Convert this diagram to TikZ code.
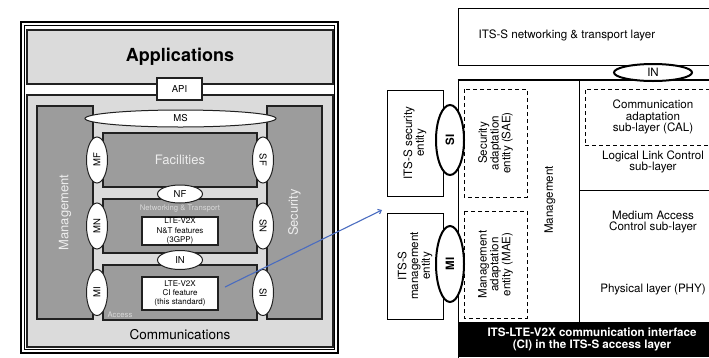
\documentclass[tikz,border=0pt]{standalone}
\usepackage{fontspec}
\setmainfont{TeX Gyre Heros}
\usepackage{tikz}
\usetikzlibrary{arrows.meta, positioning, shapes.geometric}
\definecolor{colorLight}{gray}{0.86}
\definecolor{colorMid}{gray}{0.61}
\definecolor{colorEdge}{gray}{0.13}
\definecolor{colorPale}{gray}{0.93}
\definecolor{colorFaint}{gray}{0.85}
\definecolor{colorZoom}{RGB}{74,108,192}
\tikzset{
  frame/.style={draw=black, line width=1.6pt, inner sep=0pt},
  panel/.style={draw=colorEdge, line width=1.1pt, fill=colorLight, inner sep=0pt},
  block/.style={draw=colorEdge, line width=1.1pt, fill=colorMid, inner sep=0pt, text=colorPale, font=\fontsize{13}{13}\selectfont},
  feat/.style={draw=colorEdge, line width=1.1pt, fill=white, inner sep=0pt, align=center, font=\fontsize{8}{9.3}\selectfont},
  sap/.style={ellipse, draw=colorEdge, line width=1pt, fill=white, inner sep=0pt, font=\fontsize{9.5}{9.5}\selectfont},
  sapL/.style={sap, rotate=90, minimum width=46pt, minimum height=21pt},
  sapR/.style={sap, rotate=-90, minimum width=46pt, minimum height=21pt},
  tiny label/.style={inner sep=1pt, text=colorFaint, font=\fontsize{7.7}{7.7}\selectfont},
  thinbox/.style={draw=black, line width=0.8pt, fill=white, inner sep=0pt, align=center, font=\fontsize{11.6}{11.8}\selectfont},
  adapt/.style={draw=black, line width=0.8pt, dash pattern=on 4pt off 3pt, inner sep=0pt, align=center, font=\fontsize{11.6}{11.8}\selectfont},
  sapBold/.style={ellipse, draw=black, line width=2pt, fill=white, inner sep=0pt, font=\bfseries\fontsize{11.5}{11.5}\selectfont},
  rtext/.style={inner sep=0pt, align=center, font=\fontsize{11.6}{11.8}\selectfont},
}
\begin{document}
\begin{tikzpicture}[x=1pt, y=-1pt]
\useasboundingbox (0,0) rectangle (709,357);
% ITS station, left
\node[frame, minimum width=317pt, minimum height=331pt] (frameOut) at (179.5,187.5) {};
\node[frame, line width=0.6pt, minimum width=310pt, minimum height=324pt] (frameIn) at (179.5,187.5) {};
\node[panel, minimum width=306pt, minimum height=54pt, font=\bfseries\fontsize{18}{18}\selectfont] (apps) at (180,57) {Applications};
\node[panel, minimum width=306pt, minimum height=252pt] (comm) at (180,221) {};
\node[inner sep=0pt, font=\fontsize{13.5}{13.5}\selectfont] (commText) at (180,335) {Communications};
\node[block, rotate=90, minimum width=213pt, minimum height=56pt] (mgmt) at (65,212.5) {Management};
\node[block, rotate=90, minimum width=213pt, minimum height=55pt] (sec) at (294.5,212.5) {Security};
\node[block, minimum width=154pt, minimum height=54pt] (fac) at (180,160) {Facilities};
\node[block, minimum width=154pt, minimum height=54pt] (nt) at (180,226) {};
\node[block, minimum width=154pt, minimum height=55pt] (acc) at (180,292.5) {};
\node[tiny label, anchor=south west] (accText) at ([shift={(4pt,2pt)}]acc.south west) {Access};
\node[feat, minimum width=76pt, minimum height=28pt] (ntFeat) at (180,231) {LTE-V2X\\N\&T features\\(3GPP)};
\node[feat, minimum width=76pt, minimum height=33pt] (ciFeat) at (180,293.5) {LTE-V2X\\CI feature\\(this standard)};
\node[feat, minimum width=45pt, minimum height=22pt, font=\fontsize{9.5}{9.5}\selectfont] (api) at (179.5,89) {API};
\node[sap, minimum width=191pt, minimum height=17pt] (ms) at (180.5,118.5) {MS};
\node[sap, minimum width=45pt, minimum height=18pt] (nf) at (180,194) {NF};
\node[sap, minimum width=45pt, minimum height=19pt] (inL) at (180,260) {IN};
\node[tiny label, below=0.5pt of nf.south] (ntText) {Networking \& Transport};
\node[sapL] (mf) at (97,160) {MF};
\node[sapL] (mn) at (97,226) {MN};
\node[sapL] (mi) at (97,292.5) {MI};
\node[sapR] (sf) at (263,160) {SF};
\node[sapR] (sn) at (263,226) {SN};
\node[sapR] (si) at (263,292.5) {SI};
% access layer detail, right
\node[thinbox, minimum width=268pt, minimum height=57pt] (ntLayer) at (592,36.5) {};
\node[rtext] (ntLayerText) at (567,35) {ITS-S networking \& transport layer};
\node[thinbox, minimum width=268pt, minimum height=280pt] (acBox) at (592,220) {};
\draw[line width=2pt] (acBox.north west) -- (acBox.north east);
\node[fill=black, inner sep=0pt, minimum width=268pt, minimum height=35pt, align=center, text=white, font=\bfseries\fontsize{11.6}{12}\selectfont] (ciBar) at (592,339.5) {ITS-LTE-V2X communication interface\\(CI) in the ITS-S access layer};
\draw[line width=0.8pt] (579,80) -- (579,322);
\draw[line width=0.8pt] (579,190) -- (712,190);
\node[sapBold, minimum width=78pt, minimum height=17pt, font=\fontsize{11.5}{11.5}\selectfont] (inR) at (653,72.5) {IN};
\node[thinbox, rotate=90, minimum width=106pt, minimum height=56pt] (secEnt) at (415,143) {ITS-S security\\entity};
\node[thinbox, rotate=90, minimum width=106pt, minimum height=56pt] (mgmtEnt) at (415,266) {ITS-S\\management\\entity};
\node[sapBold, rotate=90, minimum width=70pt, minimum height=28pt] (siR) at (450,140) {SI};
\node[sapBold, rotate=90, minimum width=76pt, minimum height=28pt] (miR) at (450,264) {MI};
\node[adapt, rotate=90, minimum width=108pt, minimum height=63pt] (sae) at (495.5,143) {Security\\adaptation\\entity (SAE)};
\node[adapt, rotate=90, minimum width=107pt, minimum height=63pt] (mae) at (495.5,264.5) {Management\\adaptation\\entity (MAE)};
\node[rtext, rotate=90] (mgmtR) at (550,200) {Management};
\node[adapt, minimum width=136pt, minimum height=56pt] (cal) at (653,117) {Communication\\adaptation\\sub-layer (CAL)};
\node[rtext] (llc) at (653,162) {Logical Link Control\\sub-layer};
\node[rtext] (mac) at (653,222) {Medium Access\\Control sub-layer};
\node[rtext] (phy) at (653,290) {Physical layer (PHY)};
% zoom arrow
\coordinate (zoomFrom) at (225,287);
\coordinate (zoomTo) at (382,210);
\draw[colorZoom, line width=1.1pt, -{Straight Barb[length=3pt, width=5pt]}] (zoomFrom) -- (zoomTo);
\end{tikzpicture}
\end{document}
